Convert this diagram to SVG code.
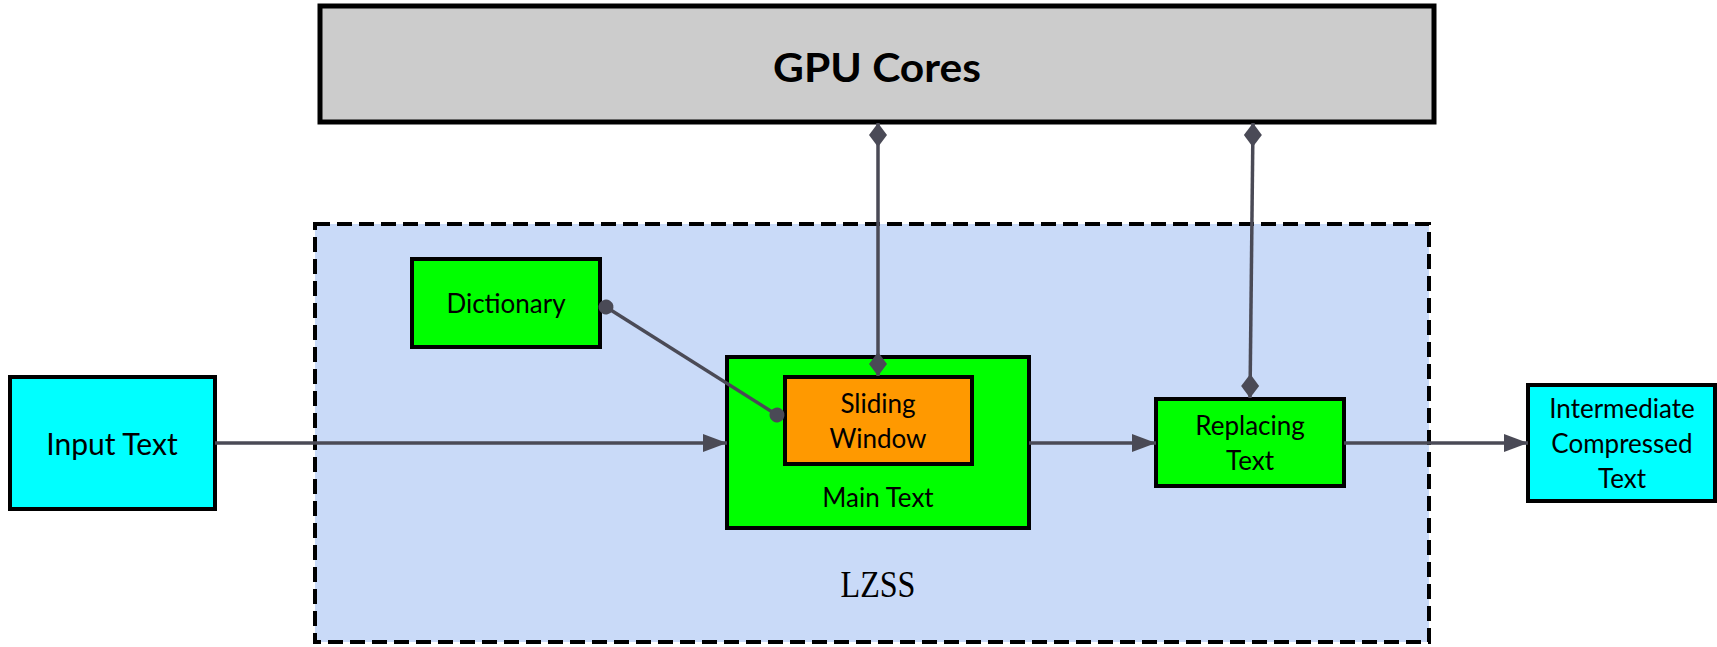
<svg xmlns="http://www.w3.org/2000/svg" width="1717" height="647" viewBox="0 0 1717 647">
  <style>
    .box { stroke: #000; stroke-width: 4; }
    .lbl { font-family: Lato, "Open Sans", "Liberation Sans", sans-serif; font-size: 26px; fill: #000; text-anchor: middle; }
    .wire { stroke: #4a4a56; stroke-width: 3.5; fill: none; }
    .cyan { fill: #00ffff; }
    .green { fill: #00ff00; }
    .orange { fill: #ff9900; }
  </style>
  <defs>
    <marker id="arrow" markerUnits="userSpaceOnUse" viewBox="-24 -10 24 20" refX="0" refY="0" markerWidth="24" markerHeight="20" orient="auto">
      <path d="M0,0 L-24,-9 L-24,9 Z" fill="#4a4a56"/>
    </marker>
    <marker id="diamond" markerUnits="userSpaceOnUse" viewBox="-24 -10 24 20" refX="0" refY="0" markerWidth="24" markerHeight="20" orient="auto-start-reverse">
      <path d="M0,0 L-12,-9 L-24,0 L-12,9 Z" fill="#4a4a56"/>
    </marker>
    <marker id="dot" markerUnits="userSpaceOnUse" viewBox="-8 -8 16 16" refX="0" refY="0" markerWidth="16" markerHeight="16" orient="auto">
      <circle cx="0" cy="0" r="7.5" fill="#4a4a56"/>
    </marker>
  </defs>

  <rect width="1717" height="647" fill="#fff"/>

  <!-- LZSS container -->
  <g id="lzss">
    <rect x="315" y="224" width="1114" height="418" fill="#c9daf8" stroke="#000" stroke-width="4" stroke-dasharray="15 7"/>
    <text x="878" y="597" font-family="'Liberation Serif', 'DejaVu Serif', serif" font-size="38" text-anchor="middle" textLength="75" lengthAdjust="spacingAndGlyphs">LZSS</text>
  </g>

  <!-- GPU cores bar -->
  <g id="gpu-cores">
    <rect x="320" y="6" width="1114" height="116" fill="#cccccc" stroke="#000" stroke-width="5"/>
    <text x="877" y="82" font-family="Lato, 'Open Sans', 'Liberation Sans', sans-serif" font-size="40" font-weight="bold" text-anchor="middle" textLength="208" lengthAdjust="spacingAndGlyphs">GPU Cores</text>
  </g>

  <g id="input-text">
    <rect class="box cyan" x="10" y="377" width="205" height="132"/>
    <text class="lbl" x="112" y="455" style="font-size:30px">Input Text</text>
  </g>

  <g id="dictionary">
    <rect class="box green" x="412" y="259" width="188" height="88"/>
    <text class="lbl" x="506" y="313">Dictionary</text>
  </g>

  <g id="main-text">
    <rect class="box green" x="727" y="357" width="302" height="171"/>
    <text class="lbl" x="878" y="507">Main Text</text>
  </g>

  <g id="sliding-window">
    <rect class="box orange" x="785" y="377" width="187" height="87"/>
    <text class="lbl" x="878" y="413">Sliding</text>
    <text class="lbl" x="878" y="448">Window</text>
  </g>

  <g id="replacing-text">
    <rect class="box green" x="1156" y="399" width="188" height="87"/>
    <text class="lbl" x="1250" y="435">Replacing</text>
    <text class="lbl" x="1250" y="470">Text</text>
  </g>

  <g id="intermediate-compressed-text">
    <rect class="box cyan" x="1528" y="385" width="187" height="116"/>
    <text class="lbl" x="1622" y="418">Intermediate</text>
    <text class="lbl" x="1622" y="453">Compressed</text>
    <text class="lbl" x="1622" y="488">Text</text>
  </g>

  <!-- connectors -->
  <g id="connectors">
    <path class="wire" d="M215,443 L727,443" marker-end="url(#arrow)"/>
    <path class="wire" d="M1029,443 L1156,443" marker-end="url(#arrow)"/>
    <path class="wire" d="M1344,443 L1528,443" marker-end="url(#arrow)"/>
    <path class="wire" d="M606,307 L777,415" marker-start="url(#dot)" marker-end="url(#dot)"/>
    <path class="wire" d="M878,123 L878,376" marker-start="url(#diamond)" marker-end="url(#diamond)"/>
    <path class="wire" d="M1253,123 L1250,398" marker-start="url(#diamond)" marker-end="url(#diamond)"/>
  </g>
</svg>
